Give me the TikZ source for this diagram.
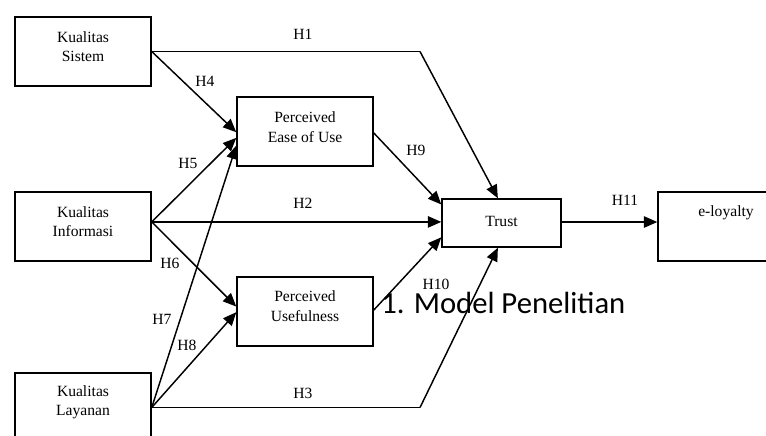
\documentclass[tikz,border=0pt]{standalone}
\usepackage{fontspec}
\setmainfont{Liberation Serif}
\newfontfamily\calfont{Carlito}
\usetikzlibrary{arrows.meta,calc}
\begin{document}
\begin{tikzpicture}[x=0.75pt,y=-0.75pt,
  box/.style={draw,line width=1.1pt,minimum width=102pt,minimum height=51.75pt,inner sep=0pt},
  txt/.style={align=center,font=\fontsize{11.7}{14.5}\selectfont,inner sep=0pt},
  hl/.style={font=\fontsize{11.7}{14}\selectfont,inner sep=0pt},
  conn/.style={line width=1.1pt,-{Triangle[length=10pt,width=8.5pt]}},
  plain/.style={line width=1.1pt}]
\clip (0,0) rectangle (766,435);
\fill[white] (0,0) rectangle (766,435);
% boxes
\node[box] (ks) at (83,51.5) {};
\node[box] (ki) at (83,226.5) {};
\node[box] (kl) at (83,407.5) {};
\node[box] (peou) at (305,131.5) {};
\node[box] (pu) at (305,311.5) {};
\node[box,minimum width=89.25pt,minimum height=36pt] (trust) at (501.5,223) {};
\node[box] (el) at (726,226.5) {};
% box texts
\node[txt] (kst) at (83,46.5) {Kualitas\\Sistem};
\node[txt] (kit) at (83,221.5) {Kualitas\\Informasi};
\node[txt] (klt) at (83,402.5) {Kualitas\\Layanan};
\node[txt] (peout) at (305,127) {Perceived\\Ease of Use};
\node[txt] (put) at (305,306) {Perceived\\Usefulness};
\node[txt] (trustt) at (501.5,221) {Trust};
\node[txt] (elt) at (726,213) {e-loyalty};
% helper coordinates
\coordinate (ksE) at (ks.east);
\coordinate (kiE) at ($(ki.north east)!0.435!(ki.south east)$);
\coordinate (klE) at (kl.east);
\coordinate (c1) at (420,51.5);
\coordinate (c3) at (420,407.5);
\coordinate (tE) at ($(trust.north east)!0.48!(trust.south east)$);
% connectors
\draw[plain] (ksE) -- (c1);
\draw[conn] (c1) -- ($(trust.north west)!0.47!(trust.north east)$);
\draw[conn] (ksE) -- ($(peou.north west)!0.51!(peou.south west)$);
\draw[conn] (kiE) -- ($(peou.north west)!0.59!(peou.south west)$);
\draw[conn] (klE) -- ($(peou.north west)!0.70!(peou.south west)$);
\draw[conn] (kiE) -- (kiE -| trust.west);
\draw[conn] (kiE) -- ($(pu.north west)!0.43!(pu.south west)$);
\draw[conn] (klE) -- ($(pu.north west)!0.51!(pu.south west)$);
\draw[plain] (klE) -- (c3);
\draw[conn] (c3) -- ($(trust.south west)!0.47!(trust.south east)$);
\draw[conn] ($(peou.north east)!0.52!(peou.south east)$) -- ($(trust.north west)!0.125!(trust.south west)$);
\draw[conn] ($(pu.north east)!0.48!(pu.south east)$) -- ($(trust.north west)!0.79!(trust.south west)$);
\draw[conn] (tE) -- (tE -| el.west);
% labels
\node[hl] (h1) at (303,34) {H1};
\node[hl] (h4) at (205,81) {H4};
\node[hl] (h5) at (188,163) {H5};
\node[hl] (h2) at (303,203) {H2};
\node[hl] (h6) at (170,263) {H6};
\node[hl] (h7) at (162,319) {H7};
\node[hl] (h8) at (187,345) {H8};
\node[hl] (h3) at (303,393) {H3};
\node[hl] (h9) at (416,150) {H9};
\node[hl] (h10) at (436,284) {H10};
\node[hl] (h11) at (625,200) {H11};
\node[anchor=base west,inner sep=0pt,font=\calfont\fontsize{23}{26}\selectfont] (title) at (381,313) {1. Model Penelitian};
\end{tikzpicture}
\end{document}
